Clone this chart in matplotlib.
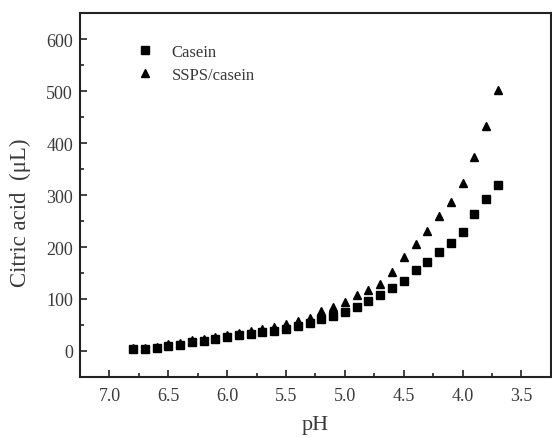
import matplotlib
matplotlib.use("Agg")
import matplotlib.pyplot as plt
import matplotlib.ticker as ticker

# pH values (same for both series)
ph = [6.8, 6.7, 6.6, 6.5, 6.4, 6.3, 6.2, 6.1, 6.0, 5.9, 5.8, 5.7, 5.6, 5.5, 5.4, 5.3,
      5.2, 5.1, 5.0, 4.9, 4.8, 4.7, 4.6, 4.5, 4.4, 4.3, 4.2, 4.1, 4.0, 3.9, 3.8, 3.7]

casein = [3, 3, 5, 10, 12, 17, 20, 23, 26, 30, 33, 36, 39, 43, 48, 53,
          61, 67, 75, 84, 97, 107, 122, 134, 155, 172, 190, 208, 229, 263, 293, 320]

ssps_casein = [5, 5, 7, 14, 16, 21, 24, 27, 30, 34, 38, 42, 46, 51, 57, 64,
               76, 85, 94, 107, 118, 129, 152, 181, 205, 230, 260, 286, 324, 374, 432, 502]

plt.rcParams["font.family"] = ["Liberation Serif", "DejaVu Serif"]
TEXT = "#3a3a3a"

fig = plt.figure(figsize=(5.52, 4.39), dpi=100)
ax = fig.add_axes([0.145, 0.139, 0.853, 0.829])

ax.plot(ph, casein, "s", color="black", markersize=5.5, label="Casein")
ax.plot(ph, ssps_casein, "^", color="black", markersize=6, label="SSPS/casein")

ax.set_xlim(7.25, 3.25)
ax.set_ylim(-50, 650)
ax.xaxis.set_major_locator(ticker.MultipleLocator(0.5))
ax.xaxis.set_minor_locator(ticker.MultipleLocator(0.25))
ax.yaxis.set_major_locator(ticker.MultipleLocator(100))
ax.yaxis.set_minor_locator(ticker.MultipleLocator(50))
ax.xaxis.set_major_formatter(ticker.FormatStrFormatter("%.1f"))

ax.tick_params(which="both", direction="in", top=False, right=False,
               colors="#222222", labelcolor=TEXT, labelsize=13, width=1.2)
ax.tick_params(which="major", length=5)
ax.tick_params(which="minor", length=3)
ax.tick_params(axis="x", pad=7)
ax.tick_params(axis="y", pad=5)
for s in ax.spines.values():
    s.set_linewidth(1.5)
    s.set_color("#222222")

ax.set_xlabel("pH", fontsize=16, color=TEXT)
ax.xaxis.set_label_coords(0.5, -0.105)
ax.set_ylabel("Citric acid  (\u03bcL)", fontsize=16.5, color=TEXT)
ax.yaxis.set_label_coords(-0.105, 0.455)

ax.legend(loc="upper left", bbox_to_anchor=(0.2476, 0.898),
          bbox_transform=fig.transFigure, frameon=False, borderaxespad=0,
          borderpad=0, fontsize=12, labelcolor=TEXT, handlelength=1.0,
          handletextpad=1.1, labelspacing=0.45)

fig.savefig("out.png", dpi=100, facecolor="white")
